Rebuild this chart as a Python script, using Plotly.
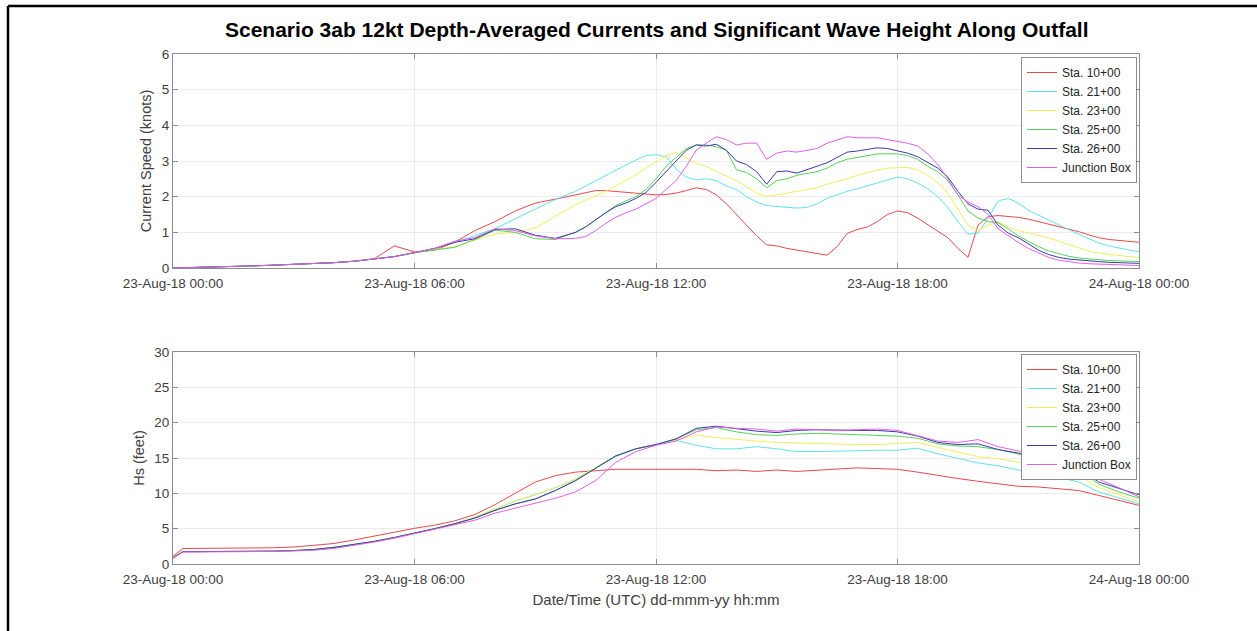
import pandas as pd
import plotly.graph_objects as go

# ---------------- data ----------------
# Top panel: depth-averaged current speed (knots), sample times in hours after 23-Aug-18 00:00
hours_cur = [0, 0.5, 1, 1.5, 2, 2.5, 3, 3.5, 4, 4.5, 5, 5.5, 6, 6.5, 7, 7.5, 8, 8.5, 9, 9.5, 10,
             10.25, 10.5, 10.75, 11, 11.25, 11.5, 11.75, 12, 12.25, 12.5, 12.75, 13,
             13.25, 13.5, 13.75, 14, 14.25, 14.5, 14.75, 15, 15.25, 15.5, 15.75, 16,
             16.25, 16.5, 16.75, 17, 17.25, 17.5, 17.75, 18, 18.25, 18.5, 18.75, 19,
             19.25, 19.5, 19.75, 20, 20.25, 20.5, 20.75, 21, 21.25, 21.5, 21.75, 22,
             22.25, 22.5, 22.75, 23, 23.25, 23.5, 23.75, 24]

cur_sta10 = [0, 0.01, 0.02, 0.04, 0.06, 0.08, 0.10, 0.12, 0.15, 0.19, 0.26, 0.62, 0.45, 0.50, 0.72, 1.05, 1.30, 1.60, 1.82, 1.93, 2.05,
             2.12, 2.17, 2.17, 2.15, 2.12, 2.10, 2.07, 2.05, 2.06, 2.10, 2.17, 2.25,
             2.20, 2.05, 1.80, 1.50, 1.20, 0.90, 0.65, 0.62, 0.55, 0.50, 0.46, 0.42,
             0.36, 0.60, 0.97, 1.08, 1.15, 1.30, 1.50, 1.60, 1.55, 1.40, 1.22, 1.05,
             0.85, 0.55, 0.30, 1.20, 1.44, 1.47, 1.45, 1.42, 1.37, 1.30, 1.25, 1.18,
             1.10, 1.02, 0.93, 0.85, 0.80, 0.77, 0.74, 0.72]
cur_sta21 = [0, 0.01, 0.02, 0.04, 0.06, 0.08, 0.10, 0.12, 0.15, 0.19, 0.25, 0.32, 0.43, 0.55, 0.72, 0.90, 1.10, 1.38, 1.65, 1.92, 2.15,
             2.30, 2.45, 2.60, 2.75, 2.90, 3.03, 3.15, 3.18, 3.12, 2.78, 2.55, 2.47,
             2.50, 2.45, 2.30, 2.20, 2.00, 1.85, 1.75, 1.72, 1.70, 1.68, 1.70, 1.80,
             1.95, 2.05, 2.15, 2.22, 2.30, 2.38, 2.48, 2.55, 2.50, 2.38, 2.22, 2.00,
             1.70, 1.30, 0.95, 0.98, 1.40, 1.88, 1.95, 1.82, 1.62, 1.48, 1.35, 1.22,
             1.08, 0.95, 0.82, 0.70, 0.62, 0.56, 0.50, 0.45]
cur_sta23 = [0, 0.01, 0.02, 0.04, 0.06, 0.08, 0.10, 0.12, 0.15, 0.19, 0.25, 0.32, 0.43, 0.52, 0.60, 0.78, 0.95, 1.00, 1.12, 1.45, 1.78,
             1.90, 2.02, 2.15, 2.30, 2.45, 2.62, 2.80, 2.98, 3.15, 3.25, 3.10, 2.93,
             2.85, 2.70, 2.58, 2.45, 2.28, 2.10, 2.00, 2.05, 2.10, 2.15, 2.20, 2.25,
             2.35, 2.42, 2.50, 2.60, 2.68, 2.75, 2.80, 2.82, 2.82, 2.75, 2.60, 2.40,
             2.10, 1.65, 1.20, 1.05, 1.20, 1.30, 1.15, 1.05, 0.98, 0.92, 0.85, 0.75,
             0.65, 0.55, 0.47, 0.42, 0.38, 0.35, 0.32, 0.30]
cur_sta25 = [0, 0.01, 0.02, 0.04, 0.06, 0.08, 0.10, 0.12, 0.15, 0.19, 0.25, 0.32, 0.43, 0.50, 0.58, 0.80, 1.06, 1.00, 0.82, 0.80, 1.00,
             1.15, 1.35, 1.55, 1.75, 1.88, 2.00, 2.20, 2.50, 2.85, 3.10, 3.35, 3.45,
             3.45, 3.40, 3.30, 2.75, 2.68, 2.50, 2.25, 2.45, 2.50, 2.60, 2.65, 2.70,
             2.80, 2.95, 3.05, 3.10, 3.15, 3.20, 3.20, 3.20, 3.15, 3.05, 2.85, 2.70,
             2.45, 2.05, 1.60, 1.40, 1.30, 1.27, 1.10, 0.90, 0.75, 0.60, 0.48, 0.40,
             0.33, 0.28, 0.25, 0.22, 0.21, 0.20, 0.19, 0.18]
cur_sta26 = [0, 0.01, 0.02, 0.04, 0.06, 0.08, 0.10, 0.12, 0.15, 0.19, 0.25, 0.32, 0.43, 0.55, 0.72, 0.82, 1.08, 1.10, 0.92, 0.83, 1.00,
             1.15, 1.35, 1.55, 1.72, 1.82, 1.95, 2.12, 2.40, 2.70, 3.00, 3.30, 3.45,
             3.42, 3.47, 3.30, 3.00, 2.90, 2.70, 2.35, 2.70, 2.72, 2.66, 2.75, 2.85,
             2.95, 3.10, 3.25, 3.28, 3.33, 3.37, 3.35, 3.28, 3.22, 3.12, 2.95, 2.80,
             2.55, 2.15, 1.80, 1.65, 1.62, 1.20, 0.98, 0.85, 0.68, 0.50, 0.38, 0.30,
             0.25, 0.22, 0.20, 0.18, 0.16, 0.15, 0.14, 0.13]
cur_jbox = [0, 0.01, 0.02, 0.04, 0.06, 0.08, 0.10, 0.12, 0.15, 0.19, 0.25, 0.32, 0.43, 0.55, 0.75, 0.85, 1.10, 1.05, 0.90, 0.82, 0.83,
            0.88, 1.05, 1.25, 1.42, 1.55, 1.65, 1.80, 1.95, 2.20, 2.45, 2.85, 3.30,
            3.50, 3.68, 3.60, 3.45, 3.50, 3.50, 3.05, 3.22, 3.28, 3.25, 3.30, 3.35,
            3.50, 3.60, 3.68, 3.65, 3.65, 3.65, 3.60, 3.55, 3.50, 3.42, 3.20, 2.90,
            2.50, 2.05, 1.85, 1.72, 1.50, 1.10, 0.90, 0.72, 0.55, 0.42, 0.30, 0.22,
            0.17, 0.14, 0.12, 0.11, 0.10, 0.09, 0.08, 0.07]

# Bottom panel: significant wave height (feet)
hours_hs = [0, 0.25, 0.5, 1, 1.5, 2, 2.5, 3, 3.5, 4, 4.5, 5, 5.5, 6, 6.5, 7, 7.5, 8, 8.5, 9, 9.5, 10,
            10.5, 11, 11.5, 12, 12.5, 13, 13.5, 14, 14.5, 15, 15.5, 16, 16.5, 17, 17.5, 18,
            18.5, 19, 19.5, 20, 20.5, 21, 21.5, 22, 22.5, 23, 23.5, 24]

hs_sta10 = [1.1, 2.2, 2.2, 2.2, 2.2, 2.22, 2.3, 2.4, 2.6, 2.9, 3.4, 3.9, 4.5, 5.05, 5.5, 6.1, 7.0, 8.4, 10.0, 11.6, 12.5, 13.0,
            13.2, 13.4, 13.4, 13.4, 13.4, 13.4, 13.2, 13.3, 13.1, 13.3, 13.1, 13.3, 13.5, 13.6, 13.5, 13.4,
            13.0, 12.5, 12.1, 11.7, 11.3, 11.0, 10.9, 10.7, 10.4, 9.7, 9.0, 8.3]
hs_sta21 = [0.95, 1.75, 1.75, 1.75, 1.75, 1.78, 1.82, 1.9, 2.05, 2.35, 2.75, 3.2, 3.75, 4.35, 5.0, 5.7, 6.6, 7.8, 8.9, 9.8, 10.8, 12.0,
            13.6, 15.2, 16.3, 16.9, 17.5, 16.8, 16.3, 16.3, 16.6, 16.3, 15.9, 15.9, 16.0, 16.1, 16.1, 16.1,
            16.4, 15.6, 14.9, 14.3, 13.9, 13.3, 12.9, 12.3, 11.6, 10.2, 9.3, 8.5]
hs_sta23 = [0.95, 1.75, 1.75, 1.75, 1.75, 1.78, 1.82, 1.9, 2.05, 2.35, 2.75, 3.2, 3.75, 4.35, 5.0, 5.7, 6.6, 7.8, 8.9, 9.8, 10.8, 12.0,
            13.6, 15.3, 16.3, 16.9, 17.6, 18.2, 17.9, 17.6, 17.4, 17.2, 17.1, 17.0, 17.0, 16.9, 16.9, 17.1,
            17.2, 16.5, 15.8, 15.2, 14.9, 14.4, 13.9, 13.4, 12.6, 10.8, 9.8, 8.8]
hs_sta25 = [0.95, 1.75, 1.75, 1.75, 1.75, 1.78, 1.82, 1.9, 2.05, 2.35, 2.75, 3.2, 3.75, 4.35, 5.0, 5.7, 6.5, 7.6, 8.5, 9.2, 10.4, 11.8,
            13.6, 15.3, 16.3, 16.9, 17.7, 19.0, 19.3, 18.7, 18.3, 18.2, 18.4, 18.5, 18.4, 18.3, 18.2, 18.1,
            17.8, 17.0, 16.7, 16.6, 16.2, 15.6, 15.0, 14.3, 13.4, 11.3, 10.2, 9.3]
hs_sta26 = [0.85, 1.75, 1.75, 1.75, 1.75, 1.78, 1.82, 1.9, 2.05, 2.35, 2.75, 3.2, 3.75, 4.35, 5.0, 5.7, 6.5, 7.6, 8.5, 9.2, 10.4, 11.8,
            13.6, 15.3, 16.3, 16.9, 17.7, 19.2, 19.5, 19.1, 18.8, 18.6, 18.9, 19.0, 18.9, 18.9, 18.9, 18.7,
            18.1, 17.2, 16.9, 17.0, 16.2, 15.7, 15.0, 14.4, 13.6, 11.6, 10.7, 9.8]
hs_jbox = [0.8, 1.7, 1.7, 1.7, 1.72, 1.75, 1.78, 1.85, 1.95, 2.2, 2.6, 3.1, 3.65, 4.3, 4.95, 5.6, 6.2, 7.2, 7.9, 8.5, 9.3, 10.2,
           11.8, 14.4, 15.9, 16.8, 17.4, 18.7, 19.4, 19.2, 19.1, 18.8, 19.1, 19.0, 18.9, 19.0, 19.1, 18.9,
           18.2, 17.4, 17.2, 17.6, 16.6, 16.0, 15.2, 14.6, 13.7, 12.0, 10.8, 9.5]

series_names = ["Sta. 10+00", "Sta. 21+00", "Sta. 23+00", "Sta. 25+00", "Sta. 26+00", "Junction Box"]
series_colors = ["#e8484c", "#5fe3ea", "#f2ee5a", "#55d25a", "#3a3aa8", "#e25fe6"]
cur_series = [cur_sta10, cur_sta21, cur_sta23, cur_sta25, cur_sta26, cur_jbox]
hs_series = [hs_sta10, hs_sta21, hs_sta23, hs_sta25, hs_sta26, hs_jbox]

title_text = "Scenario 3ab 12kt Depth-Averaged Currents and Significant Wave Height Along Outfall"
ytitle_top = "Current Speed (knots)"
ytitle_bot = "Hs (feet)"
xtitle_bot = "Date/Time (UTC) dd-mmm-yy hh:mm"

# ---------------- figure ----------------
base = pd.Timestamp("2018-08-23 00:00")
t_cur = [base + pd.Timedelta(hours=h) for h in hours_cur]
t_hs = [base + pd.Timedelta(hours=h) for h in hours_hs]

W, H = 1257, 631
FONT = "Liberation Sans, Arial, Helvetica, sans-serif"
TXT = "#404040"

fig = go.Figure()
for name, col, vals in zip(series_names, series_colors, cur_series):
    fig.add_trace(go.Scatter(x=t_cur, y=vals, mode="lines", name=name,
                             line=dict(color=col, width=1), xaxis="x", yaxis="y",
                             legend="legend"))
for name, col, vals in zip(series_names, series_colors, hs_series):
    fig.add_trace(go.Scatter(x=t_hs, y=vals, mode="lines", name=name,
                             line=dict(color=col, width=1), xaxis="x2", yaxis="y2",
                             legend="legend2"))

xl, xr = 173 / W, 1139 / W
ax_common = dict(showline=True, linecolor="#8c8c8c", linewidth=1, mirror="ticks",
                 ticks="inside", ticklen=5, tickcolor="#8c8c8c", automargin=False,
                 showgrid=True, gridcolor="#ebebeb", gridwidth=1, zeroline=False,
                 tickfont=dict(family=FONT, size=13.5, color=TXT))
xr_range = [base, base + pd.Timedelta(hours=24)]
xaxis_common = dict(ax_common, type="date", range=xr_range, tick0=base,
                    dtick=6 * 3600 * 1000, tickformat="%d-%b-%y %H:%M", domain=[xl, xr],
                    ticklabelstandoff=3)

fig.update_layout(
    width=W, height=H,
    margin=dict(l=0, r=0, t=0, b=0, autoexpand=False),
    paper_bgcolor="white", plot_bgcolor="white",
    font=dict(family=FONT, color=TXT),
    xaxis=dict(xaxis_common, anchor="y"),
    xaxis2=dict(xaxis_common, anchor="y2",
                title=dict(text=xtitle_bot, font=dict(family=FONT, size=15, color=TXT), standoff=8)),
    yaxis=dict(ax_common, range=[0, 6], dtick=1, domain=[1 - 268 / H, 1 - 54 / H], anchor="x",
               title=dict(text=ytitle_top, font=dict(family=FONT, size=14.5, color=TXT), standoff=6)),
    yaxis2=dict(ax_common, range=[0, 30], dtick=5, domain=[1 - 564 / H, 1 - 352 / H], anchor="x2",
                title=dict(text=ytitle_bot, font=dict(family=FONT, size=14.5, color=TXT), standoff=6)),
    legend=dict(x=1021 / W, y=1 - 57 / H, xanchor="left", yanchor="top",
                bgcolor="white", bordercolor="#8c8c8c", borderwidth=1,
                font=dict(family=FONT, size=12, color="#262626"), tracegroupgap=0),
    legend2=dict(x=1021 / W, y=1 - 354 / H, xanchor="left", yanchor="top",
                 bgcolor="white", bordercolor="#8c8c8c", borderwidth=1,
                 font=dict(family=FONT, size=12, color="#262626"), tracegroupgap=0),
    showlegend=True,
)

fig.add_annotation(text="<b>" + title_text + "</b>", xref="paper", yref="paper",
                   x=(xl + xr) / 2, y=1 - 30 / H, xanchor="center", yanchor="middle",
                   showarrow=False, font=dict(family=FONT, size=21, color="black"))

# outer frame (left and top edges visible)
fig.add_shape(type="line", xref="paper", yref="paper", x0=8 / W, x1=8 / W, y0=0, y1=1 - 6 / H,
              line=dict(color="black", width=2.5))
fig.add_shape(type="line", xref="paper", yref="paper", x0=8 / W, x1=1, y0=1 - 6 / H, y1=1 - 6 / H,
              line=dict(color="black", width=2.5))

fig.write_html("out.html", config={"displayModeBar": False},
               post_script="document.body.style.margin='0';document.body.style.overflow='hidden';")
